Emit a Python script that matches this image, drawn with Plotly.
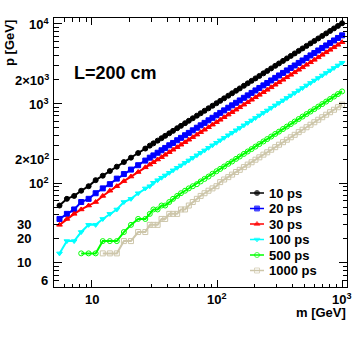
import numpy as np
import plotly.graph_objects as go

# ---- data (m in GeV, p in GeV) ----
mass = [5.5, 6.3, 7.2, 8.2, 9.4, 10.7, 12.2, 13.9, 15.8, 18.0, 20.5, 23.4, 26.7,
        29, 31, 33.5, 36, 38.5, 41.5, 44.5, 48, 51.5, 55.5, 59.5, 64, 69, 74, 79.5,
        85.5, 92, 99, 106, 114, 123, 132, 142, 152, 164, 176, 189, 203, 218, 235,
        252, 271, 292, 313, 337, 362, 389, 418, 450, 483, 520, 559, 600, 645, 694,
        746, 802, 862, 927, 1000]

p_10ps = [52.3, 63.5, 69.1, 80.3, 91.5, 109, 124, 142, 161, 184, 209, 239, 272,
          296, 316, 342, 367, 393, 423, 454, 490, 525, 566, 607, 653, 704, 755, 811,
          872, 938, 1010, 1081, 1163, 1255, 1346, 1448, 1550, 1673, 1795, 1928, 2071,
          2224, 2397, 2570, 2764, 2978, 3193, 3437, 3692, 3968, 4264, 4590, 4927,
          5304, 5702, 6120, 6579, 7079, 7609, 8180, 8792, 9455, 10200]

p_20ps = [35.5, 41.1, 46.7, 57.9, 63.5, 74.7, 85.9, 97.1, 114, 130, 148, 168, 192,
          209, 223, 241, 259, 277, 299, 320, 346, 371, 400, 428, 461, 497, 533, 572,
          616, 662, 713, 763, 821, 886, 950, 1022, 1094, 1181, 1267, 1361, 1462,
          1570, 1692, 1814, 1951, 2102, 2254, 2426, 2606, 2801, 3010, 3240, 3478,
          3744, 4025, 4320, 4644, 4997, 5371, 5774, 6206, 6674, 7200]

p_30ps = [29.9, 35.5, 41.1, 46.7, 52.3, 57.9, 69.1, 80.3, 91.5, 106, 121, 138, 158,
          171, 183, 198, 212, 227, 245, 263, 283, 304, 327, 351, 378, 407, 437, 469,
          504, 543, 584, 625, 673, 726, 779, 838, 897, 968, 1038, 1115, 1198, 1286,
          1387, 1487, 1599, 1723, 1847, 1988, 2136, 2295, 2466, 2655, 2850, 3068,
          3298, 3540, 3806, 4095, 4401, 4732, 5086, 5469, 5900]

p_100ps = [13.1, 18.7, 18.7, 24.3, 29.9, 29.9, 35.5, 41.1, 46.7, 57.9, 63.5, 74.7,
           85.9, 91.5, 101, 109, 117, 125, 135, 145, 156, 167, 180, 193, 208, 224,
           241, 258, 278, 299, 322, 345, 371, 400, 429, 462, 494, 533, 572, 614, 660,
           709, 764, 819, 881, 949, 1017, 1095, 1177, 1264, 1359, 1463, 1570, 1690,
           1817, 1950, 2096, 2256, 2425, 2607, 2802, 3013, 3250]

p_500ps = [None, None, None,
           13.1, 13.1, 13.1, 18.7, 18.7, 18.7, 24.3, 29.9, 35.5, 35.5, 41.1, 46.7,
           46.7, 52.3, 52.3, 57.9, 63.5, 69.1, 74.7, 80.3, 85.9, 91.5, 97.1, 105, 113,
           121, 131, 141, 151, 162, 175, 187, 202, 216, 233, 250, 268, 288, 310, 334,
           358, 385, 415, 444, 479, 514, 552, 594, 639, 686, 738, 794, 852, 916, 985,
           1059, 1139, 1224, 1316, 1420]

p_1000ps = [None, None, None, None, None, None,
            13.1, 13.1, 13.1, 18.7, 18.7, 24.3, 24.3, 29.9, 29.9, 29.9, 35.5, 35.5,
            41.1, 41.1, 41.1, 46.7, 46.7, 52.3, 57.9, 63.5, 69.1, 74.7, 80.3, 85.9,
            91.5, 103, 111, 119, 128, 138, 147, 159, 171, 183, 197, 211, 228, 244,
            263, 283, 304, 327, 351, 377, 405, 437, 469, 504, 542, 582, 626, 673, 724,
            778, 836, 899, 970]

names = ["10 ps", "20 ps", "30 ps", "100 ps", "500 ps", "1000 ps"]
series = [p_10ps, p_20ps, p_30ps, p_100ps, p_500ps, p_1000ps]
for s in series:
    assert len(s) == len(mass)

colors = ["#000000", "#0000ff", "#ff0000", "#00ffff", "#00ff00", "#cdc6aa"]
symbols = ["circle", "square", "triangle-up", "triangle-down", "circle-open", "square-open"]

y_ticks = [6, 10, 20, 30, 100, 200, 1000, 2000, 10000]
y_ticktext = ["6", "10", "20", "30", "10<sup>2</sup>", "2×10<sup>2</sup>",
              "10<sup>3</sup>", "2×10<sup>3</sup>", "10<sup>4</sup>"]
x_ticks = [10, 100, 1000]
x_ticktext = ["10", "10<sup>2</sup>", "10<sup>3</sup>"]

# ---- layout geometry (pixels) ----
W, H = 356, 339
L_, R_, T_, B_ = 54, 347, 18, 287
PW, PH = R_ - L_, B_ - T_


def px(x):
    return (x - L_) / PW


def py(y):
    return (B_ - y) / PH


FONT = "Liberation Sans, Arial, sans-serif"

fig = go.Figure()

for name, p, c, sym in zip(names, series, colors, symbols):
    fig.add_trace(go.Scatter(
        x=mass, y=p, mode="lines+markers", name=name,
        line=dict(color=c, width=2),
        marker=dict(color=c, symbol=sym, size=5,
                    line=dict(color=c, width=1)),
        showlegend=False,
    ))

# custom legend (overlay axes in pixel units)
row0, drow = 193, 15.5
for i, (name, c, sym) in enumerate(zip(names, colors, symbols)):
    yy = row0 + i * drow
    fig.add_trace(go.Scatter(
        x=[250, 257, 264], y=[yy, yy, yy], mode="lines+markers",
        xaxis="x2", yaxis="y2",
        line=dict(color=c, width=1.5),
        marker=dict(color=c, symbol=sym, size=[0, 5, 0],
                    line=dict(color=c, width=1)),
        showlegend=False, hoverinfo="skip",
    ))
    fig.add_annotation(x=px(267), y=py(yy), xref="paper", yref="paper",
                       text=name, showarrow=False, xanchor="left", yanchor="middle",
                       font=dict(family=FONT, size=13, color="black", weight="bold"))

minor_x = [6, 7, 8, 9, 20, 30, 40, 50, 60, 70, 80, 90,
           200, 300, 400, 500, 600, 700, 800, 900]
minor_y = [7, 8, 9, 40, 50, 60, 70, 80, 90, 300, 400, 500, 600, 700, 800, 900,
           3000, 4000, 5000, 6000, 7000, 8000, 9000]
major_y_short = [6, 20, 30, 200, 2000]

fig.update_layout(
    width=W, height=H,
    margin=dict(l=L_, r=W - R_, t=T_, b=H - B_),
    paper_bgcolor="white", plot_bgcolor="white",
    showlegend=False,
    xaxis=dict(type="log", range=[np.log10(4.97), np.log10(1095)],
               showgrid=False, zeroline=False, showline=True, linecolor="black",
               linewidth=1, mirror="ticks", ticks="inside", ticklen=7,
               tickcolor="black", tickvals=x_ticks, showticklabels=False,
               minor=dict(tickvals=minor_x, ticks="inside", ticklen=3.5,
                          tickcolor="black", showgrid=False)),
    yaxis=dict(type="log", range=[0.695, 4.075],
               showgrid=False, zeroline=False, showline=True, linecolor="black",
               linewidth=1, mirror="ticks", ticks="inside", ticklen=8,
               tickcolor="black", tickvals=[10, 100, 1000, 10000],
               showticklabels=False,
               minor=dict(tickvals=minor_y + major_y_short, ticks="inside",
                          ticklen=4.5, tickcolor="black", showgrid=False)),
    xaxis2=dict(overlaying="x", range=[L_, R_], visible=False, domain=[0, 1]),
    yaxis2=dict(overlaying="y", range=[B_, T_], visible=False, domain=[0, 1]),
)

# y tick labels (ROOT-like placement)
right_edges = {6: 50, 10: 33, 20: 33, 30: 33}
for v, t in zip(y_ticks, y_ticktext):
    re_ = right_edges.get(v, 51)
    fig.add_annotation(x=0, xref="paper", y=np.log10(v), yref="y", text=t,
                       showarrow=False, xanchor="right", yanchor="middle",
                       xshift=re_ - L_,
                       font=dict(family=FONT, size=13, color="black", weight="bold"))

for v, t in zip(x_ticks, x_ticktext):
    fig.add_annotation(x=np.log10(v), xref="x", y=py(299), yref="paper", text=t,
                       showarrow=False, xanchor="center", yanchor="middle",
                       font=dict(family=FONT, size=13, color="black", weight="bold"))

# axis titles
fig.add_annotation(x=px(9), y=1.0, xref="paper", yref="paper", text="p [GeV]",
                   textangle=-90, showarrow=False, xanchor="center", yanchor="top",
                   font=dict(family=FONT, size=13, color="black", weight="bold"))
fig.add_annotation(x=px(348), y=py(312), xref="paper", yref="paper", text="m [GeV]",
                   showarrow=False, xanchor="right", yanchor="middle",
                   font=dict(family=FONT, size=13, color="black", weight="bold"))

fig.add_annotation(x=px(72), y=py(73), xref="paper", yref="paper", text="L=200 cm",
                   showarrow=False, xanchor="left", yanchor="middle",
                   font=dict(family=FONT, size=18, color="black", weight="bold"))

fig.write_html("out.html", config={"displayModeBar": False},
               post_script="document.body.style.margin='0';")
